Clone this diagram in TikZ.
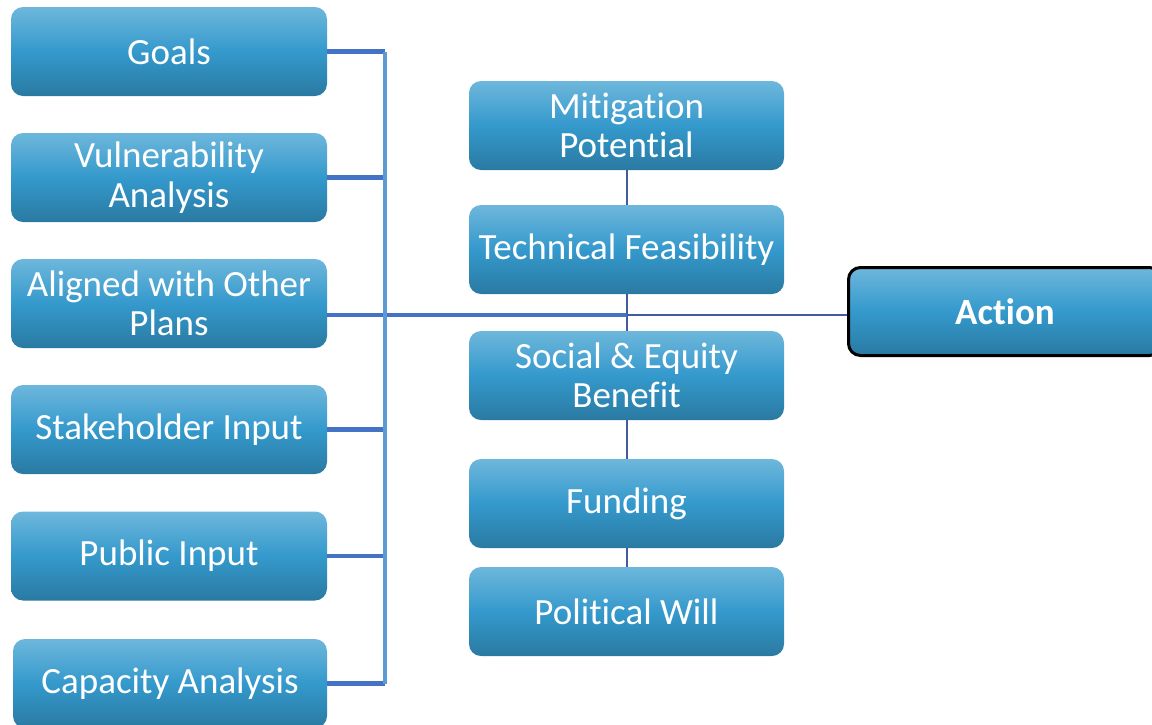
\documentclass[tikz,border=0pt]{standalone}
\usepackage{fontspec}
\setmainfont[RawFeature={-liga;-clig;-calt;-dlig}]{Carlito}
\definecolor{boxtop}{RGB}{110,183,220}
\definecolor{boxmid}{RGB}{52,153,204}
\definecolor{boxbot}{RGB}{42,122,162}
\definecolor{hline}{RGB}{68,114,196}
\definecolor{vbus}{RGB}{91,155,213}
\definecolor{midline}{RGB}{62,92,158}
\begin{document}
\begin{tikzpicture}[x=1pt,y=-1pt,
  box/.style={rounded corners=12pt, minimum width=316pt, minimum height=89pt,
    top color=boxtop, bottom color=boxbot, middle color=boxmid,
    text=white, align=center, font=\fontsize{37}{39.5}\selectfont, inner sep=0pt},
  feed/.style={draw=hline, line width=4.5pt},
  bus/.style={draw=vbus, line width=4pt},
  chain/.style={draw=midline, line width=2pt}]
\useasboundingbox (0,0) rectangle (1152,724);
% left column
\node[box] (goals) at (169,51.5) {Goals};
\node[box] (vuln) at (169,177.5) {Vulnerability\\Analysis};
\node[box] (aligned) at (169,303.5) {Aligned with Other\\Plans};
\node[box] (stake) at (169,429.5) {Stakeholder Input};
\node[box] (public) at (169,556) {Public Input};
\node[box, minimum width=314pt] (capacity) at (170,683.5) {Capacity Analysis};
% middle column
\node[box, minimum width=315pt] (mitig) at (626.5,125.5) {Mitigation\\Potential};
\node[box, minimum width=315pt] (tech) at (626.5,249.5) {Technical Feasibility};
\node[box, minimum width=315pt] (social) at (626.5,375.5) {Social \& Equity\\Benefit};
\node[box, minimum width=315pt] (funding) at (626.5,503.5) {Funding};
\node[box, minimum width=315pt] (political) at (626.5,611.5) {Political Will};
% action
\node[box, draw=black, line width=3pt, minimum width=313pt, minimum height=88pt,
  font=\fontsize{37}{39.5}\selectfont\bfseries] (action) at (1005,311.5) {Action};
% coordinates
\coordinate (bustop) at (385,51.5);
\coordinate (busbot) at (385,683.5);
\coordinate (j) at (626.5,315);
% middle chain
\draw[chain] (mitig.south) -- (tech.north);
\draw[chain] (tech.south) -- (social.north);
\draw[chain] (social.south) -- (funding.north);
\draw[chain] (funding.south) -- (political.north);
% feeds
\draw[feed] (goals.east) -- (goals.east -| bustop);
\draw[feed] (vuln.east) -- (vuln.east -| bustop);
\draw[feed] (aligned.east |- j) -- (j);
\draw[feed] (stake.east) -- (stake.east -| bustop);
\draw[feed] (public.east) -- (public.east -| bustop);
\draw[feed] (capacity.east) -- (capacity.east -| bustop);
\draw[bus] (bustop) -- (busbot);
\draw[draw=midline, line width=2.5pt] (j) -- (j -| action.west);
\end{tikzpicture}
\end{document}
